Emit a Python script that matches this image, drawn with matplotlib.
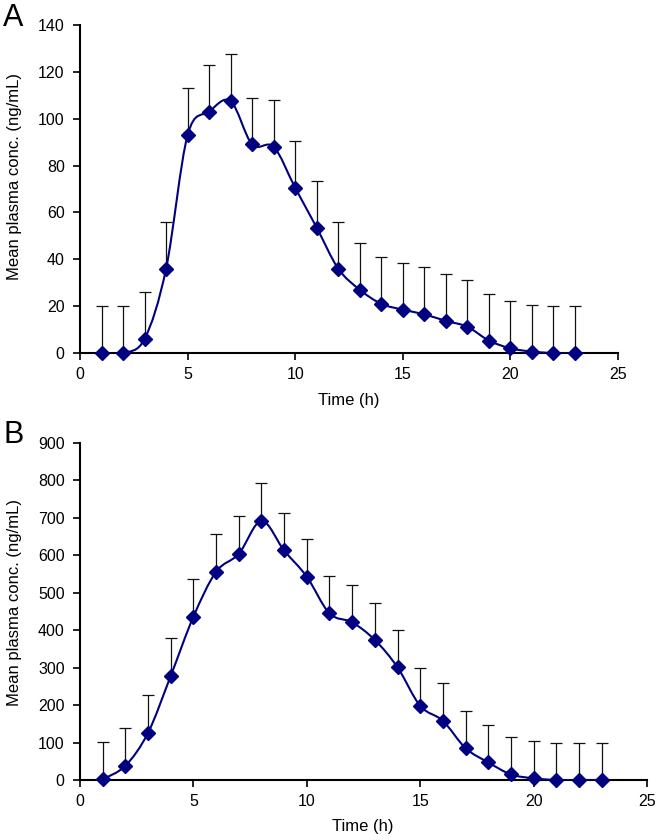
import numpy as np
import matplotlib
matplotlib.use("Agg")
import matplotlib.pyplot as plt
from matplotlib.path import Path
from matplotlib.patches import PathPatch

plt.rcParams["font.family"] = ["Liberation Sans", "DejaVu Sans"]

# data
time_h = list(range(1, 24))
mean_a = [0, 0, 6, 36, 93, 103, 107.5, 89, 88, 70.5, 53.5, 36, 27, 21,
          18.5, 16.5, 13.7, 11.2, 5.3, 2, 0.6, 0, 0]
mean_b = [2, 38, 126, 278, 436, 556, 604, 692, 613, 543, 445, 421, 374,
          301, 198, 158, 85, 47, 15, 4.5, 0, 0, 0]
err_a = 20     # fixed upper error bar
err_b = 100
x_ticks = [0, 5, 10, 15, 20, 25]
y_ticks_a = list(range(0, 141, 20))
y_ticks_b = list(range(0, 901, 100))

W, H = 659, 840
NAVY = "#000080"


def smooth_path(x, y, k=1 / 6):
    # Excel-like smoothed line: Catmull-Rom segments as cubic Beziers
    pts = np.column_stack([np.asarray(x, float), np.asarray(y, float)])
    padded = np.vstack([pts[0], pts, pts[-1]])
    verts, codes = [pts[0]], [Path.MOVETO]
    for i in range(len(pts) - 1):
        p0, p1, p2, p3 = padded[i], padded[i + 1], padded[i + 2], padded[i + 3]
        verts += [p1 + (p2 - p0) * k, p2 - (p3 - p1) * k, p2]
        codes += [Path.CURVE4] * 3
    return Path(verts, codes)


def draw_panel(ax, mean, err, yticks):
    n = len(mean)
    ax.errorbar(time_h, mean, yerr=[np.zeros(n), np.full(n, err)], fmt="none",
                ecolor="#111111", elinewidth=0.9, capsize=4, capthick=0.9, zorder=2)
    ax.add_patch(PathPatch(smooth_path(time_h, mean), fill=False,
                           edgecolor=NAVY, lw=1.5, zorder=3))
    ax.plot(time_h, mean, ls="none", marker="D", ms=7, color=NAVY,
            zorder=4, clip_on=False)
    ax.set_xlim(0, 25)
    ax.set_ylim(yticks[0], yticks[-1])
    ax.set_xticks(x_ticks)
    ax.set_yticks(yticks)
    for s in ("top", "right"):
        ax.spines[s].set_visible(False)
    for s in ("left", "bottom"):
        ax.spines[s].set_linewidth(1.5)
    ax.tick_params(direction="out", length=5, width=1.2, labelsize=11.5)
    ax.tick_params(axis="y", pad=6)
    ax.tick_params(axis="x", pad=5)


fig = plt.figure(figsize=(W / 100, H / 100), dpi=100)

# axes boxes in pixels: left, top, right, bottom
ax_a = fig.add_axes([80 / W, 1 - 353 / H, (618 - 80) / W, (353 - 25) / H])
ax_b = fig.add_axes([80 / W, 1 - 780 / H, (647 - 80) / W, (780 - 443) / H])

draw_panel(ax_a, mean_a, err_a, y_ticks_a)
draw_panel(ax_b, mean_b, err_b, y_ticks_b)

ylab = "Mean plasma conc. (ng/mL)"
fig.text(15 / W, 1 - 177 / H, ylab, rotation=90, ha="center", va="center", fontsize=12)
fig.text(15 / W, 1 - 603 / H, ylab, rotation=90, ha="center", va="center", fontsize=12)
fig.text(349 / W, 1 - 400 / H, "Time (h)", ha="center", va="center", fontsize=12)
fig.text(363 / W, 1 - 827 / H, "Time (h)", ha="center", va="center", fontsize=12)

fig.text(3 / W, 1 - 3 / H, "A", ha="left", va="top", fontsize=22)
fig.text(3 / W, 1 - 420 / H, "B", ha="left", va="top", fontsize=22)

fig.savefig("out.png", dpi=100)
